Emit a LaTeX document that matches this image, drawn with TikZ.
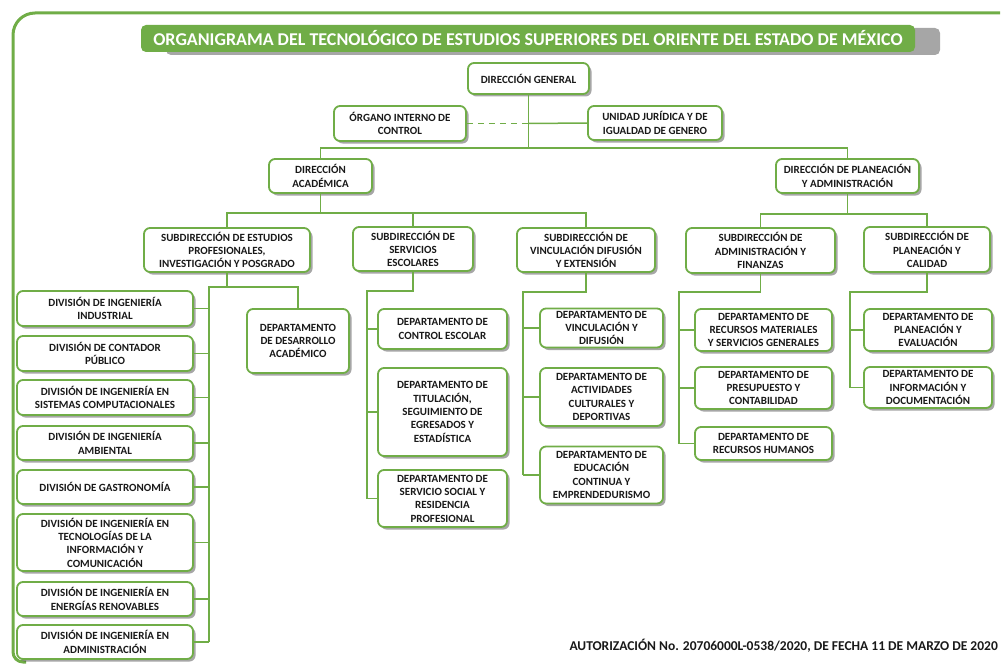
\documentclass[tikz,border=0pt]{standalone}
\usepackage{fontspec}
\setmainfont{Carlito}
\usetikzlibrary{shadows}
\definecolor{orggreen}{HTML}{70AD47}
\definecolor{orggray}{HTML}{A6A6A6}

\tikzset{
  unit/.style={draw=orggreen, line width=1.8pt, rounded corners=6pt, fill=white,
    drop shadow={shadow xshift=2.5pt, shadow yshift=-2.5pt, fill=black, opacity=0.35},
    align=center, inner sep=0pt, text=black!90,
    font=\bfseries\fontsize{11}{13.3}\selectfont},
  link/.style={draw=orggreen, line width=1.5pt},
  banner/.style={fill=orggreen, rounded corners=5pt, inner sep=0pt, text=white,
    drop shadow={shadow xshift=25pt, shadow yshift=-3pt, fill=orggray, opacity=1},
    font=\bfseries\fontsize{18}{20}\selectfont}
}

\begin{document}
\begin{tikzpicture}[x=1pt,y=-1pt]
	\useasboundingbox (0,0) rectangle (1003,666);

	% frame
	\draw[orggreen, line width=3pt] (1000,13) [rounded corners=22pt] -- (13,13) [rounded corners=10pt] -- (13,662) -- (26,662);

	% title
	\node[banner, minimum width=774pt, minimum height=27pt] (title) at (528,38.5) {ORGANIGRAMA DEL TECNOLÓGICO DE ESTUDIOS SUPERIORES DEL ORIENTE DEL ESTADO DE MÉXICO};

	% top level
	\node[unit, minimum width=121pt, minimum height=31pt] (dg) at (528.5,78.5) {DIRECCIÓN GENERAL};
	\node[unit, minimum width=132pt, minimum height=35pt] (oic) at (400,123.5) {ÓRGANO INTERNO DE\\CONTROL};
	\node[unit, minimum width=134pt, minimum height=34pt] (uj) at (655,123) {UNIDAD JURÍDICA Y DE\\IGUALDAD DE GENERO};
	\node[unit, minimum width=103pt, minimum height=34pt] (da) at (320.5,176) {DIRECCIÓN\\ACADÉMICA};
	\node[unit, minimum width=143pt, minimum height=34pt] (dpa) at (847.5,176) {DIRECCIÓN DE PLANEACIÓN\\Y ADMINISTRACIÓN};

	\coordinate (b0) at (528.5,123.5);
	\coordinate (b1) at (528.5,148);
	\draw[link] (dg) -- (b1);
	\draw[link, dash pattern=on 6pt off 5pt] (oic.east) -- (b0);
	\draw[link] (b0) -- (uj.west);
	\draw[link] (da.north) |- (b1) -| (dpa.north);

	% subdirecciones
	\node[unit, minimum width=166pt, minimum height=44pt] (sep) at (227,250) {SUBDIRECCIÓN DE ESTUDIOS\\PROFESIONALES,\\INVESTIGACIÓN Y POSGRADO};
	\node[unit, minimum width=120pt, minimum height=44pt] (sse) at (413,249) {SUBDIRECCIÓN DE\\SERVICIOS\\ESCOLARES};
	\node[unit, minimum width=138pt, minimum height=44pt] (svd) at (586,250) {SUBDIRECCIÓN DE\\VINCULACIÓN DIFUSIÓN\\Y EXTENSIÓN};
	\node[unit, minimum width=149pt, minimum height=45pt] (saf) at (760.5,250.5) {SUBDIRECCIÓN DE\\ADMINISTRACIÓN Y\\FINANZAS};
	\node[unit, minimum width=126pt, minimum height=45pt] (spc) at (927,249.5) {SUBDIRECCIÓN DE\\PLANEACIÓN Y\\CALIDAD};

	\coordinate (b2) at (320.5,213);
	\coordinate (b3) at (847.5,214);
	\draw[link] (da) -- (b2);
	\draw[link] (sep.north) |- (b2) -| (svd.north);
	\draw[link] (sse.north) -- (sse.north |- b2);
	\draw[link] (dpa) -- (b3);
	\draw[link] (saf.north) |- (b3) -| (spc.north);

	% divisiones
	\node[unit, minimum width=176pt, minimum height=35pt] (d1) at (105,308.5) {DIVISIÓN DE INGENIERÍA\\INDUSTRIAL};
	\node[unit, minimum width=176pt, minimum height=35pt] (d2) at (105,353.5) {DIVISIÓN DE CONTADOR\\PÚBLICO};
	\node[unit, minimum width=176pt, minimum height=35pt] (d3) at (105,397.5) {DIVISIÓN DE INGENIERÍA EN\\SISTEMAS COMPUTACIONALES};
	\node[unit, minimum width=176pt, minimum height=34pt] (d4) at (105,443) {DIVISIÓN DE INGENIERÍA\\AMBIENTAL};
	\node[unit, minimum width=176pt, minimum height=34pt] (d5) at (105,487) {DIVISIÓN DE GASTRONOMÍA};
	\node[unit, minimum width=176pt, minimum height=57pt] (d6) at (105,542.5) {DIVISIÓN DE INGENIERÍA EN\\TECNOLOGÍAS DE LA\\INFORMACIÓN Y\\COMUNICACIÓN};
	\node[unit, minimum width=176pt, minimum height=34pt] (d7) at (105,599) {DIVISIÓN DE INGENIERÍA EN\\ENERGÍAS RENOVABLES};
	\node[unit, minimum width=176pt, minimum height=34pt] (d8) at (105,642) {DIVISIÓN DE INGENIERÍA EN\\ADMINISTRACIÓN};
	\node[unit, minimum width=102pt, minimum height=64pt] (dda) at (298,341) {DEPARTAMENTO\\DE DESARROLLO\\ACADÉMICO};

	\coordinate (b4) at (209,287);
	\draw[link] (sep) -- (sep.south |- b4);
	\draw[link] (dda.north) |- (b4) -- (b4 |- d8.east);
	\draw[link] (d1.east) -- (d1.east -| b4) (d2.east) -- (d2.east -| b4) (d3.east) -- (d3.east -| b4) (d4.east) -- (d4.east -| b4);
	\draw[link] (d5.east) -- (d5.east -| b4) (d6.east) -- (d6.east -| b4) (d7.east) -- (d7.east -| b4) (d8.east) -- (d8.east -| b4);

	% servicios escolares
	\node[unit, minimum width=129pt, minimum height=40pt] (dce) at (442.5,329) {DEPARTAMENTO DE\\CONTROL ESCOLAR};
	\node[unit, minimum width=129pt, minimum height=88pt] (dtit) at (442.5,412) {DEPARTAMENTO DE\\TITULACIÓN,\\SEGUIMIENTO DE\\EGRESADOS Y\\ESTADÍSTICA};
	\node[unit, minimum width=129pt, minimum height=57pt] (dss) at (442.5,498.5) {DEPARTAMENTO DE\\SERVICIO SOCIAL Y\\RESIDENCIA\\PROFESIONAL};

	\coordinate (b5) at (367,291);
	\draw[link] (sse) |- (b5) -- (b5 |- dss.west);
	\draw[link] (dce.west) -- (dce.west -| b5) (dtit.west) -- (dtit.west -| b5) (dss.west) -- (dss.west -| b5);

	% vinculacion
	\node[unit, minimum width=123pt, minimum height=39pt] (dvd) at (601.5,328) {DEPARTAMENTO DE\\VINCULACIÓN Y\\DIFUSIÓN};
	\node[unit, minimum width=123pt, minimum height=58pt] (dac) at (601.5,397) {DEPARTAMENTO DE\\ACTIVIDADES\\CULTURALES Y\\DEPORTIVAS};
	\node[unit, minimum width=123pt, minimum height=57pt] (dec) at (601.5,475) {DEPARTAMENTO DE\\EDUCACIÓN\\CONTINUA Y\\EMPRENDEDURISMO};

	\coordinate (b6) at (523,292);
	\draw[link] (svd) |- (b6) -- (b6 |- dec.west);
	\draw[link] (dvd.west) -- (dvd.west -| b6) (dac.west) -- (dac.west -| b6) (dec.west) -- (dec.west -| b6);

	% administracion y finanzas
	\node[unit, minimum width=137pt, minimum height=42pt] (drm) at (763.5,330) {DEPARTAMENTO DE\\RECURSOS MATERIALES\\Y SERVICIOS GENERALES};
	\node[unit, minimum width=137pt, minimum height=42pt] (dpc) at (763.5,388) {DEPARTAMENTO DE\\PRESUPUESTO Y\\CONTABILIDAD};
	\node[unit, minimum width=137pt, minimum height=33pt] (drh) at (763.5,443.5) {DEPARTAMENTO DE\\RECURSOS HUMANOS};

	\coordinate (b7) at (679,292);
	\draw[link] (saf) |- (b7) -- (b7 |- drh.west);
	\draw[link] (drm.west) -- (drm.west -| b7) (dpc.west) -- (dpc.west -| b7) (drh.west) -- (drh.west -| b7);

	% planeacion y calidad
	\node[unit, minimum width=128pt, minimum height=42pt] (dpe) at (928,330) {DEPARTAMENTO DE\\PLANEACIÓN Y\\EVALUACIÓN};
	\node[unit, minimum width=128pt, minimum height=41pt] (dinf) at (928,387.5) {DEPARTAMENTO DE\\INFORMACIÓN Y\\DOCUMENTACIÓN};

	\coordinate (b8) at (850,292);
	\draw[link] (spc) |- (b8) -- (b8 |- dinf.west);
	\draw[link] (dpe.west) -- (dpe.west -| b8) (dinf.west) -- (dinf.west -| b8);

	% footer
	\node[anchor=east, inner sep=0pt, text=black!90, font=\bfseries\fontsize{13.5}{15}\selectfont] (aut) at (998,646) {AUTORIZACIÓN No. 20706000L-0538/2020, DE FECHA 11 DE MARZO DE 2020};

\end{tikzpicture}
\end{document}
